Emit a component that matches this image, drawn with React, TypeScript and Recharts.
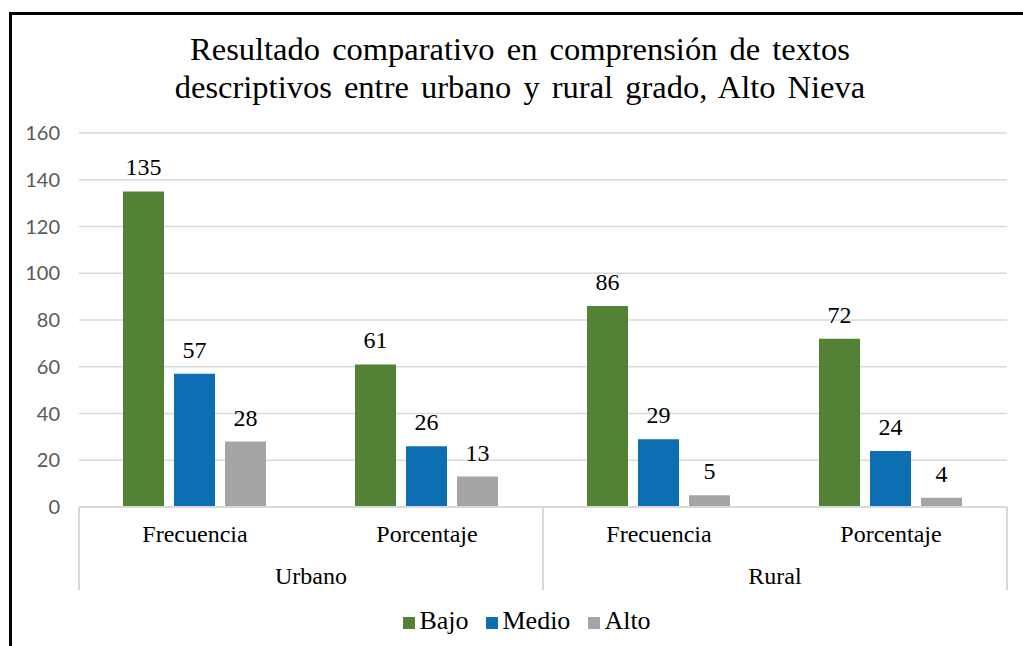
import { BarChart, Bar, XAxis, YAxis, CartesianGrid, Legend, LabelList } from 'recharts';

// Values
const CATEGORIES = ['Frecuencia', 'Porcentaje', 'Frecuencia', 'Porcentaje'];
const GROUPS = ['Urbano', 'Urbano', 'Rural', 'Rural'];
const BAJO = [135, 61, 86, 72];
const MEDIO = [57, 26, 29, 24];
const ALTO = [28, 13, 5, 4];
const Y_TICKS = [0, 20, 40, 60, 80, 100, 120, 140, 160];
const SERIES = ['Bajo', 'Medio', 'Alto'];

const TITLE_1 = 'Resultado comparativo en comprensión de textos';
const TITLE_2 = 'descriptivos entre urbano y rural grado, Alto Nieva';

const W = 1023;
const H = 646;
const MARGIN = { top: 133, right: 16, bottom: 10, left: 19 };
const Y_WIDTH = 60;
const PLOT_LEFT = MARGIN.left + Y_WIDTH;
const PLOT_RIGHT = W - MARGIN.right;
const PLOT_BOTTOM = 507;
const HALF_GROUP = (PLOT_RIGHT - PLOT_LEFT) / 4;

const SERIF = "'Liberation Serif', Tinos, 'DejaVu Serif', serif";
const SANS = "Lato, 'Liberation Sans', sans-serif";
const LINE = '#d9d9d9';

const data = CATEGORIES.map((cat, i) => ({
  key: `${GROUPS[i]}-${cat}`,
  cat,
  group: GROUPS[i],
  Bajo: BAJO[i],
  Medio: MEDIO[i],
  Alto: ALTO[i],
}));

function CatTick({ x, y, payload }: any) {
  const label = payload.value.split('-')[1];
  return (
    <text x={x} y={y + 27} textAnchor="middle" style={{ fontFamily: SERIF, fontSize: 24, fill: '#000' }}>
      {label}
    </text>
  );
}

function GroupTick({ x, y, payload }: any) {
  return (
    <g>
      <line x1={x - HALF_GROUP} x2={x - HALF_GROUP} y1={PLOT_BOTTOM} y2={590} stroke={LINE} strokeWidth={2} />
      <line x1={x + HALF_GROUP} x2={x + HALF_GROUP} y1={PLOT_BOTTOM} y2={590} stroke={LINE} strokeWidth={2} />
      <text x={x} y={y + 26} textAnchor="middle" style={{ fontFamily: SERIF, fontSize: 24, fill: '#000' }}>
        {payload.value}
      </text>
    </g>
  );
}

const labelStyle = { fontFamily: SERIF, fontSize: 24, fill: '#000' };

export default function App() {
  return (
    <div style={{ position: 'absolute', left: 0, top: 0, width: W, height: H, overflow: 'hidden', background: '#fff' }}>
      <div style={{ position: 'absolute', left: 9, top: 12, width: 1100, height: 700, borderLeft: '3px solid #000', borderTop: '3px solid #000' }} />
      <div style={{ position: 'absolute', left: 0, top: 30, width: 1040, textAlign: 'center', fontFamily: SERIF, fontSize: 32.5, lineHeight: '38px', color: '#000', wordSpacing: 4 }}>
        <div>{TITLE_1}</div>
        <div>{TITLE_2}</div>
      </div>
      <div style={{ position: 'absolute', left: 0, top: 0 }}>
        <BarChart width={W} height={H} data={data} margin={MARGIN} barCategoryGap={44} barGap={10}>
          <CartesianGrid vertical={false} stroke={LINE} strokeWidth={1.5} />
          <XAxis xAxisId="cat" dataKey="key" axisLine={{ stroke: LINE, strokeWidth: 2 }} tickLine={false} height={43} tick={<CatTick />} interval={0} />
          <XAxis xAxisId="group" dataKey="group" allowDuplicatedCategory={false} axisLine={false} tickLine={false} height={56} tick={<GroupTick />} interval={0} />
          <YAxis width={Y_WIDTH} domain={[0, 160]} ticks={Y_TICKS} axisLine={false} tickLine={false} tickMargin={13}
            tick={{ fontFamily: SANS, fontSize: 20, fill: '#595959' }} />
          <Legend verticalAlign="bottom" iconType="square" iconSize={12}
            itemSorter={(item: any) => SERIES.indexOf(item.value)}
            wrapperStyle={{ fontFamily: SERIF, fontSize: 26, paddingLeft: 23 }}
            formatter={(v: string) => <span style={{ color: '#000', marginRight: 8 }}>{v}</span>} />
          <Bar xAxisId="cat" dataKey="Bajo" fill="#548235" isAnimationActive={false}>
            <LabelList dataKey="Bajo" position="top" offset={16} style={labelStyle} />
          </Bar>
          <Bar xAxisId="cat" dataKey="Medio" fill="#0e6eb4" isAnimationActive={false}>
            <LabelList dataKey="Medio" position="top" offset={16} style={labelStyle} />
          </Bar>
          <Bar xAxisId="cat" dataKey="Alto" fill="#a5a5a5" isAnimationActive={false}>
            <LabelList dataKey="Alto" position="top" offset={16} style={labelStyle} />
          </Bar>
        </BarChart>
      </div>
    </div>
  );
}
